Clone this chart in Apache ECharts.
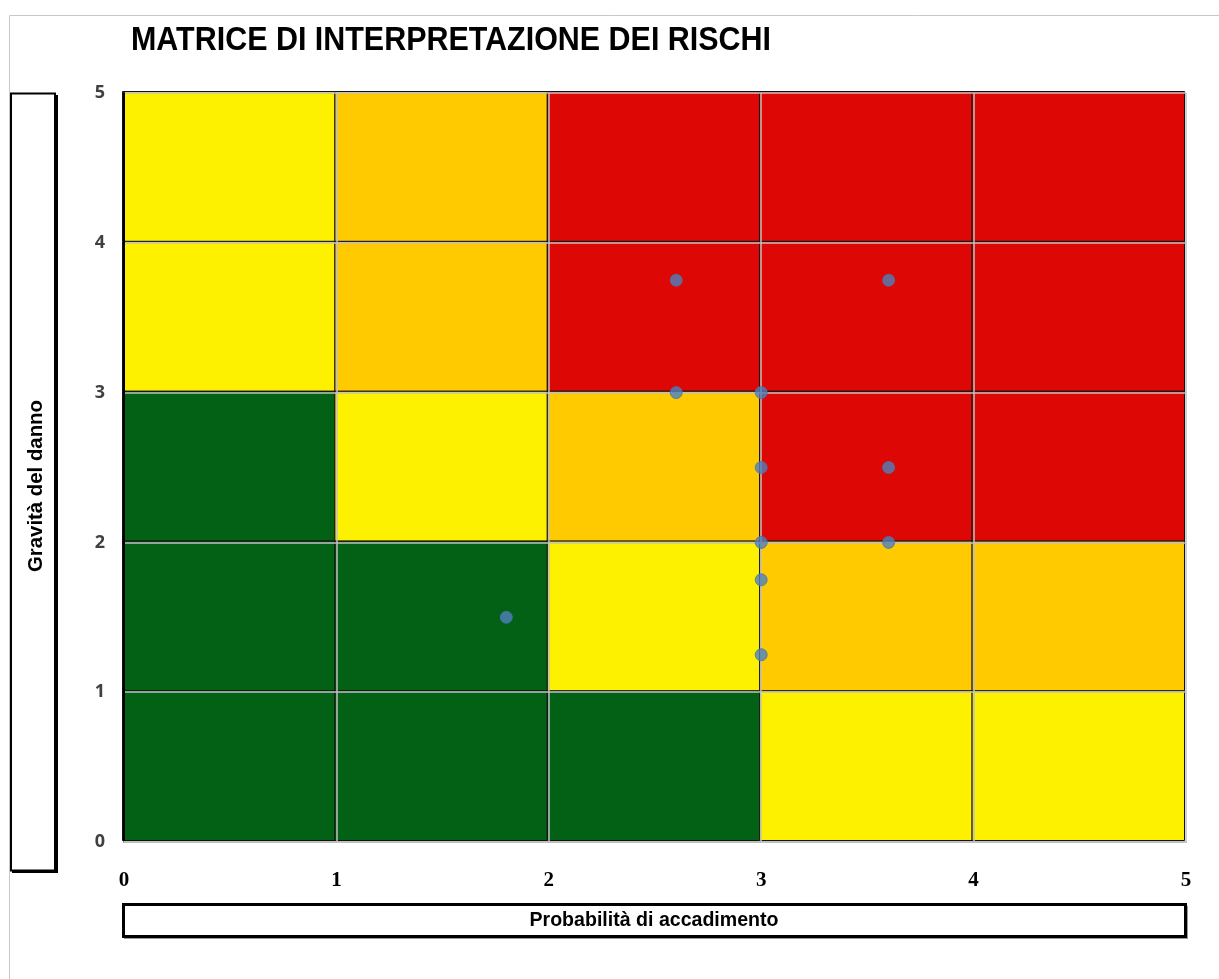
<!DOCTYPE html>
<html>
<head>
<meta charset="utf-8">
<script src="https://cdn.jsdelivr.net/npm/echarts@6/dist/echarts.min.js"></script>
<style>
  html, body { margin: 0; padding: 0; background: #fff; }
  #chart { width: 1219px; height: 979px; }
</style>
</head>
<body>
<div id="chart"></div>
<script>
  const title = 'MATRICE DI INTERPRETAZIONE DEI RISCHI'
  const xName = 'Probabilità di accadimento'
  const yName = 'Gravità del danno'
  const tickLabels = ['0', '1', '2', '3', '4', '5']

  // livello di rischio per cella: righe dal basso (gravità 0-1) verso l'alto
  // 0 = verde, 1 = giallo, 2 = arancio, 3 = rosso
  const levelRows = [
    [0, 0, 0, 1, 1],
    [0, 0, 1, 2, 2],
    [0, 1, 2, 3, 3],
    [1, 2, 3, 3, 3],
    [1, 2, 3, 3, 3]
  ]
  const levelColors = ['#026115', '#FDF100', '#FFCB00', '#DD0805']

  // rischi rilevati (probabilità, gravità)
  const probabilita = [2.6, 3.6, 2.6, 3, 3, 3.6, 3, 3.6, 3, 1.8, 3]
  const gravita = [3.75, 3.75, 3, 3, 2.5, 2.5, 2, 2, 1.75, 1.5, 1.25]

  const cells = []
  levelRows.forEach(function (row, y) {
    row.forEach(function (lvl, x) {
      cells.push([x, y, lvl])
    })
  })
  const points = probabilita.map(function (p, i) { return [p, gravita[i]] })

  // i font condensati (tipo Calibri) non ci sono: si stringe il testo in larghezza
  const measureCtx = document.createElement('canvas').getContext('2d')
  function fitScale(text, font, width) {
    measureCtx.font = font
    return width / measureCtx.measureText(text).width
  }

  const titleFont = 'bold 33px "Liberation Sans"'
  const nameFont = 'bold 20px "Liberation Sans"'

  const chart = echarts.init(document.getElementById('chart'))

  const option = {
    animation: false,
    backgroundColor: '#fff',
    grid: { left: 124, right: 33, top: 93, bottom: 137 },
    xAxis: {
      type: 'value',
      min: 0,
      max: 5,
      interval: 1,
      z: 5,
      axisLine: { show: true, lineStyle: { color: '#bfbfbf', width: 2 } },
      axisTick: { show: false },
      splitLine: { show: true, lineStyle: { color: '#c0c0c0', width: 1.5 } },
      axisLabel: {
        margin: 28,
        color: '#000',
        fontFamily: 'Liberation Serif',
        fontWeight: 'bold',
        fontSize: 21,
        formatter: function (v) { return tickLabels[v] }
      }
    },
    yAxis: {
      type: 'value',
      min: 0,
      max: 5,
      interval: 1,
      z: 5,
      axisLine: { show: true, lineStyle: { color: '#000', width: 2 } },
      axisTick: { show: false },
      splitLine: { show: true, lineStyle: { color: '#c0c0c0', width: 1.5 } },
      axisLabel: {
        margin: 19,
        color: '#404040',
        fontFamily: 'Open Sans',
        fontWeight: 'bold',
        fontSize: 18,
        formatter: function (v) { return tickLabels[v] }
      }
    },
    graphic: [
      // cornice dell'area grafico
      { type: 'rect', z: -10, shape: { x: 9.5, y: 15.5, width: 1300, height: 1100 },
        style: { fill: '#fff', stroke: '#c8c8c8', lineWidth: 1 } },
      { type: 'text', x: 131, y: 41, scaleX: fitScale(title, titleFont, 640),
        style: { text: title, fill: '#000', font: titleFont, verticalAlign: 'middle' } },
      // box titolo asse Y
      { type: 'rect', shape: { x: 12, y: 95, width: 46, height: 778 },
        style: { fill: '#000' } },
      { type: 'rect', shape: { x: 11, y: 93.5, width: 44, height: 777 },
        style: { fill: '#fff', stroke: '#000', lineWidth: 2 } },
      { type: 'text', x: 36, y: 486, rotation: Math.PI / 2, scaleX: fitScale(yName, nameFont, 172),
        style: { text: yName, fill: '#000', font: nameFont, align: 'center', verticalAlign: 'middle' } },
      // box titolo asse X
      { type: 'rect', shape: { x: 124, y: 906, width: 1064, height: 33 },
        style: { fill: '#999' } },
      { type: 'rect', shape: { x: 123.5, y: 904.5, width: 1062, height: 32 },
        style: { fill: '#fff', stroke: '#000', lineWidth: 3 } },
      { type: 'text', x: 654, y: 920, scaleX: fitScale(xName, nameFont, 249),
        style: { text: xName, fill: '#000', font: nameFont, align: 'center', verticalAlign: 'middle' } }
    ],
    series: [
      {
        type: 'custom',
        z: 1,
        data: cells,
        renderItem: function (params, api) {
          const p0 = api.coord([api.value(0), api.value(1) + 1])
          const p1 = api.coord([api.value(0) + 1, api.value(1)])
          return {
            type: 'rect',
            shape: { x: p0[0] - 1.5, y: p0[1] - 1.5, width: p1[0] - p0[0], height: p1[1] - p0[1] },
            style: { fill: levelColors[api.value(2)], stroke: '#111', lineWidth: 1 }
          }
        }
      },
      {
        type: 'scatter',
        z: 10,
        data: points,
        symbolSize: 12,
        itemStyle: { color: '#4f81bd', borderColor: '#4a74ab', borderWidth: 1 }
      }
    ]
  }

  chart.setOption(option)
</script>
</body>
</html>
